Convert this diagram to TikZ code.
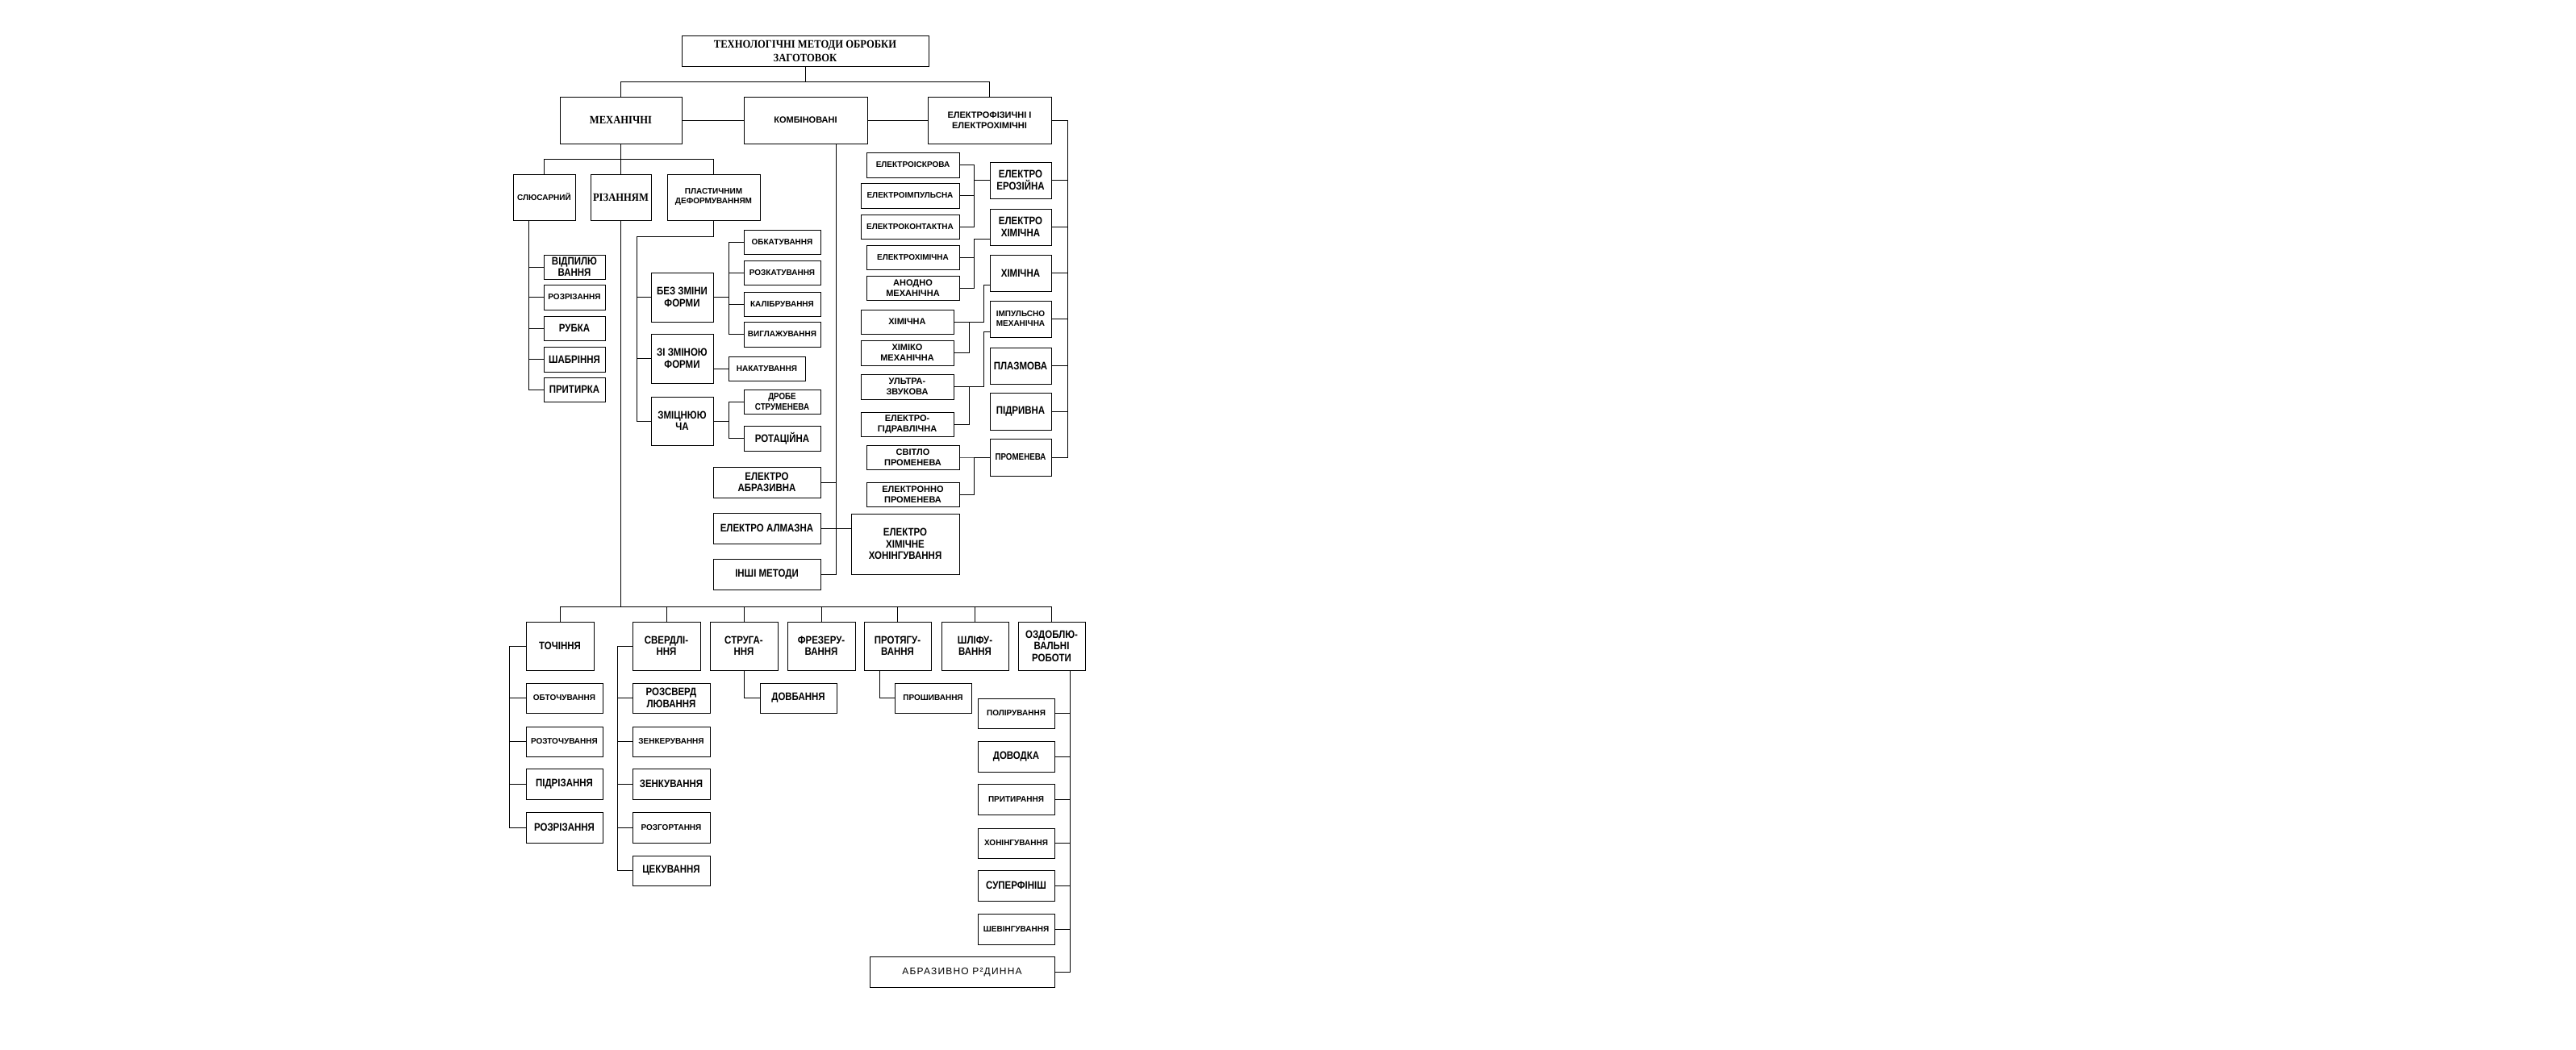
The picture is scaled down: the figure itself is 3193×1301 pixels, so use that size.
\documentclass[tikz,border=0pt]{standalone}
\usepackage{fontspec}
\newfontfamily\nsans{Liberation Sans}
\newfontfamily\csans[FakeStretch=0.85]{Liberation Sans}
\newfontfamily\nserif[FakeStretch=0.9]{Liberation Serif}
\newfontfamily\thinsans[LetterSpace=10]{Liberation Sans}
\newcommand\fsm{\nsans\bfseries\fontsize{10}{12}\selectfont}
\newcommand\fmd{\nsans\bfseries\fontsize{11}{13}\selectfont}
\newcommand\fmc{\csans\bfseries\fontsize{11.5}{13}\selectfont}
\newcommand\fbg{\csans\bfseries\fontsize{13.5}{14.5}\selectfont}
\newcommand\fser{\nserif\bfseries\fontsize{14}{17}\selectfont}
\tikzset{
  box/.style={draw,line width=0.9pt,inner sep=1pt,align=center,font=\fsm},
  md/.style={font=\fmd},
  mc/.style={font=\fmc},
  bg/.style={font=\fbg},
  sr/.style={font=\fser},
  lnk/.style={line width=0.9pt},
}
% box between the corners (x1,y1) and (x2,y2) of the sheet
\newcommand\bx[6][]{\node[box,#1,minimum width={#4-#2},minimum height={#5-#3}] (#6) at ({(#2+#4)/2},{(#3+#5)/2})}

\begin{document}
\begin{tikzpicture}[x=1pt,y=-1pt]
  \useasboundingbox (0,0) rectangle (3193,1301);

  % top level
  \bx[sr]{845}{44}{1151}{82}{title}{ТЕХНОЛОГІЧНІ МЕТОДИ ОБРОБКИ\\ЗАГОТОВОК};
  \bx[sr]{694}{120}{845}{178}{mech}{МЕХАНІЧНІ};
  \bx[md]{922}{120}{1075}{178}{komb}{КОМБІНОВАНІ};
  \bx[md]{1150}{120}{1303}{178}{elf}{ЕЛЕКТРОФІЗИЧНІ І\\ЕЛЕКТРОХІМІЧНІ};

  % mechanical
  \bx{636}{216}{713}{273}{slyus}{СЛЮСАРНИЙ};
  \bx[sr]{732}{216}{807}{273}{riz}{РІЗАННЯМ};
  \bx{827}{216}{942}{273}{plast}{ПЛАСТИЧНИМ\\ДЕФОРМУВАННЯМ};

  \bx[bg]{674}{316}{750}{346}{vidp}{ВІДПИЛЮ\\ВАННЯ};
  \bx{674}{353}{750}{384}{rozr1}{РОЗРІЗАННЯ};
  \bx[bg]{674}{392}{750}{422}{rubka}{РУБКА};
  \bx[bg]{674}{430}{750}{461}{shabr}{ШАБРІННЯ};
  \bx[bg]{674}{468}{750}{498}{prytyrka}{ПРИТИРКА};

  \bx[bg]{807}{338}{884}{399}{bez}{БЕЗ ЗМІНИ\\ФОРМИ};
  \bx[bg]{807}{414}{884}{475}{zizm}{ЗІ ЗМІНОЮ\\ФОРМИ};
  \bx[bg]{807}{492}{884}{552}{zmits}{ЗМІЦНЮЮ\\ЧА};
  \bx{922}{285}{1017}{315}{obkat}{ОБКАТУВАННЯ};
  \bx{922}{323}{1017}{353}{rozkat}{РОЗКАТУВАННЯ};
  \bx{922}{362}{1017}{392}{kalib}{КАЛІБРУВАННЯ};
  \bx{922}{399}{1017}{430}{vygl}{ВИГЛАЖУВАННЯ};
  \bx{903}{442}{998}{472}{nakat}{НАКАТУВАННЯ};
  \bx[mc]{922}{483}{1017}{513}{drobe}{ДРОБЕ\\СТРУМЕНЕВА};
  \bx[bg]{922}{528}{1017}{559}{rotats}{РОТАЦІЙНА};

  % combined
  \bx[bg]{884}{579}{1017}{617}{elabr}{ЕЛЕКТРО\\АБРАЗИВНА};
  \bx[bg]{884}{636}{1017}{674}{elalm}{ЕЛЕКТРО АЛМАЗНА};
  \bx[bg]{884}{693}{1017}{731}{inshi}{ІНШІ МЕТОДИ};
  \bx[bg]{1055}{637}{1189}{712}{elhon}{ЕЛЕКТРО\\ХІМІЧНЕ\\ХОНІНГУВАННЯ};

  % electrophysical, left column
  \bx{1074}{189}{1189}{220}{iskr}{ЕЛЕКТРОІСКРОВА};
  \bx{1067}{227}{1189}{258}{imp}{ЕЛЕКТРОІМПУЛЬСНА};
  \bx{1067}{266}{1189}{296}{kont}{ЕЛЕКТРОКОНТАКТНА};
  \bx{1074}{304}{1189}{334}{elhim}{ЕЛЕКТРОХІМІЧНА};
  \bx[md]{1074}{342}{1189}{372}{anod}{АНОДНО\\МЕХАНІЧНА};
  \bx[md]{1067}{384}{1182}{414}{him1}{ХІМІЧНА};
  \bx[md]{1067}{422}{1182}{453}{himmeh}{ХІМІКО\\МЕХАНІЧНА};
  \bx[md]{1067}{464}{1182}{495}{ultra}{УЛЬТРА-\\ЗВУКОВА};
  \bx[md]{1067}{511}{1182}{541}{gidr}{ЕЛЕКТРО-\\ГІДРАВЛІЧНА};
  \bx[md]{1074}{552}{1189}{582}{svitlo}{СВІТЛО\\ПРОМЕНЕВА};
  \bx[md]{1074}{598}{1189}{628}{elpr}{ЕЛЕКТРОННО\\ПРОМЕНЕВА};

  % electrophysical, right column
  \bx[bg]{1227}{201}{1303}{246}{eroz}{ЕЛЕКТРО\\ЕРОЗІЙНА};
  \bx[bg]{1227}{259}{1303}{304}{elhim2}{ЕЛЕКТРО\\ХІМІЧНА};
  \bx[bg]{1227}{316}{1303}{361}{him2}{ХІМІЧНА};
  \bx{1227}{373}{1303}{418}{impmeh}{ІМПУЛЬСНО\\МЕХАНІЧНА};
  \bx[bg]{1227}{431}{1303}{476}{plazm}{ПЛАЗМОВА};
  \bx[bg]{1227}{487}{1303}{533}{pidr}{ПІДРИВНА};
  \bx[mc]{1227}{544}{1303}{590}{prom}{ПРОМЕНЕВА};

  % cutting
  \bx[bg]{652}{771}{736}{831}{toch}{ТОЧІННЯ};
  \bx[bg]{784}{771}{868}{831}{sverd}{СВЕРДЛІ-\\ННЯ};
  \bx[bg]{880}{771}{964}{831}{strug}{СТРУГА-\\ННЯ};
  \bx[bg]{976}{771}{1060}{831}{frez}{ФРЕЗЕРУ-\\ВАННЯ};
  \bx[bg]{1071}{771}{1154}{831}{prot}{ПРОТЯГУ-\\ВАННЯ};
  \bx[bg]{1167}{771}{1250}{831}{shlif}{ШЛІФУ-\\ВАННЯ};
  \bx[bg]{1262}{771}{1345}{831}{ozd}{ОЗДОБЛЮ-\\ВАЛЬНІ\\РОБОТИ};

  \bx{652}{847}{747}{884}{obtoch}{ОБТОЧУВАННЯ};
  \bx{652}{901}{747}{938}{roztoch}{РОЗТОЧУВАННЯ};
  \bx[bg]{652}{953}{747}{991}{pidriz}{ПІДРІЗАННЯ};
  \bx[bg]{652}{1007}{747}{1045}{rozriz2}{РОЗРІЗАННЯ};
  \bx[bg]{784}{847}{880}{884}{rozsv}{РОЗСВЕРД\\ЛЮВАННЯ};
  \bx{784}{901}{880}{938}{zenker}{ЗЕНКЕРУВАННЯ};
  \bx[bg]{784}{953}{880}{991}{zenk}{ЗЕНКУВАННЯ};
  \bx{784}{1007}{880}{1045}{rozgort}{РОЗГОРТАННЯ};
  \bx[bg]{784}{1061}{880}{1098}{tsek}{ЦЕКУВАННЯ};
  \bx[bg]{942}{847}{1037}{884}{dovb}{ДОВБАННЯ};
  \bx{1109}{847}{1204}{884}{prosh}{ПРОШИВАННЯ};
  \bx{1212}{866}{1307}{903}{polir}{ПОЛІРУВАННЯ};
  \bx[bg]{1212}{919}{1307}{957}{dovod}{ДОВОДКА};
  \bx{1212}{972}{1307}{1010}{prytyr}{ПРИТИРАННЯ};
  \bx{1212}{1027}{1307}{1064}{honing}{ХОНІНГУВАННЯ};
  \bx[bg]{1212}{1079}{1307}{1117}{superf}{СУПЕРФІНІШ};
  \bx{1212}{1133}{1307}{1171}{shev}{ШЕВІНГУВАННЯ};
  \bx[font=\thinsans\fontsize{12}{14}\selectfont]{1078}{1186}{1307}{1224}{abraz}{АБРАЗИВНО Р²ДИННА};

  % junctions
  \coordinate (jtop) at ([yshift=-19]title.south);
  \coordinate (jmech) at ([yshift=-19]mech.south);
  \coordinate (jpl) at (789,293);
  \coordinate (jkomb) at ([xshift=38]komb.south);
  \coordinate (jelf) at ([xshift=20]elf.east);
  \coordinate (jbot) at (riz.south |- 0,752);

  % connectors
  \draw[lnk] (title.south) -- (jtop);
  \draw[lnk] (mech.north) |- (jtop) -| (elf.north);
  \draw[lnk] (mech) -- (komb);
  \draw[lnk] (komb) -- (elf);

  \draw[lnk] (mech.south) -- (riz.north);
  \draw[lnk] (slyus.north) |- (jmech) -| (plast.north);
  \foreach \n in {vidp,rozr1,rubka,shabr,prytyrka}
    \draw[lnk] ([xshift=20]slyus.south west) |- (\n.west);
  \draw[lnk] (plast.south) |- (jpl);
  \foreach \n in {bez,zizm,zmits}
    \draw[lnk] (jpl) |- (\n.west);
  \foreach \n in {obkat,rozkat,kalib,vygl}
    \draw[lnk] (bez.east) -- ++(19,0) |- (\n.west);
  \draw[lnk] (nakat.west) -- (nakat.west -| zizm.east);
  \foreach \n in {drobe,rotats}
    \draw[lnk] (zmits.east) -- ++(19,0) |- (\n.west);

  \foreach \n in {elabr,elalm,inshi}
    \draw[lnk] (jkomb) |- (\n.east);
  \draw[lnk] (elalm.east) -- (elhon.west |- elalm.east);

  \foreach \n in {eroz,elhim2,him2,impmeh,plazm,pidr,prom}
    \draw[lnk] (elf.east) -- (jelf) |- (\n.east);
  \foreach \n in {iskr,imp,kont}
    \draw[lnk] (\n.east) -| ([xshift=-19]eroz.west) -- (eroz.west);
  \foreach \n in {elhim,anod}
    \draw[lnk] (\n.east) -| ([xshift=-19,yshift=8]elhim2.south west) -- ([yshift=8]elhim2.south west);
  \draw[lnk] (himmeh.east) -| ([xshift=19]him1.east) -- (him1.east);
  \draw[lnk] ([xshift=19]him1.east) -| ([xshift=-7,yshift=8]him2.south west) -- ([yshift=8]him2.south west);
  \draw[lnk] (gidr.east) -| ([xshift=19]ultra.east) -- (ultra.east);
  \draw[lnk] ([xshift=19]ultra.east) -| ([xshift=-7,yshift=7]impmeh.south west) -- ([yshift=7]impmeh.south west);
  \foreach \n in {svitlo,elpr}
    \draw[lnk] (\n.east) -| ([xshift=-19]prom.west) -- (prom.west);

  \draw[lnk] (riz.south) -- (jbot);
  \draw[lnk] (toch.north) |- (jbot) -| (ozd.north);
  \foreach \n in {sverd,strug,frez,prot,shlif}
    \draw[lnk] (\n.north) -- (\n.north |- jbot);
  \foreach \n in {obtoch,roztoch,pidriz,rozriz2}
    \draw[lnk] (toch.west) -- ++(-20,0) |- (\n.west);
  \foreach \n in {rozsv,zenker,zenk,rozgort,tsek}
    \draw[lnk] (sverd.west) -- ++(-18,0) |- (\n.west);
  \draw[lnk] (strug.south) |- (dovb.west);
  \draw[lnk] ([xshift=-22]prot.south) |- (prosh.west);
  \foreach \n in {polir,dovod,prytyr,honing,superf,shev,abraz}
    \draw[lnk] ([xshift=23]ozd.south) |- (\n.east);
\end{tikzpicture}
\end{document}
